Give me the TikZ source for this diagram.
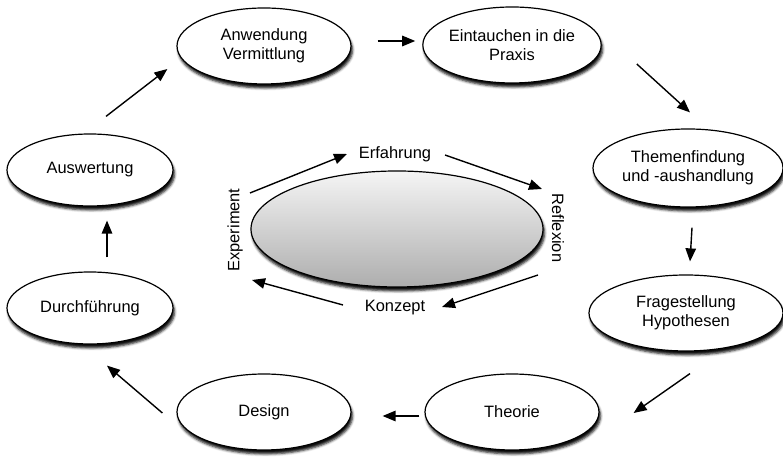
\documentclass[tikz,border=0pt]{standalone}
\usepackage{fontspec}
\setmainfont{Liberation Sans}
\usetikzlibrary{shapes.geometric,arrows.meta,shadows.blur}

\begin{document}
\begin{tikzpicture}[x=1bp, y=1bp, line width=1.2bp,
		phase/.style={ellipse, draw, fill=white, inner sep=0pt, align=center,
			minimum width=174bp, minimum height=76bp,
			blur shadow={shadow xshift=1.5bp, shadow yshift=-4bp, shadow blur radius=2.5bp, shadow opacity=95}},
		pfeil/.style={-{Triangle[length=13bp, width=10.5bp]}, line width=1.4bp},
		zyklus/.style={inner sep=1pt},
		font=\fontsize{16.5}{19}\selectfont]
	\useasboundingbox (0,0) rectangle (783,458);

	% 1. Phasen aussen
	\node[phase] (anw) at (264,412) {Anwendung\\Vermittlung};
	\node[phase] (ein) at (512,413) {Eintauchen in die\\Praxis};
	\node[phase, minimum width=190bp, minimum height=78bp] (them) at (688,290) {Themenfindung\\und -aushandlung};
	\node[phase, minimum width=194bp] (frag) at (686,145) {Fragestellung\\Hypothesen};
	\node[phase] (theo) at (512,46) {Theorie};
	\node[phase] (design) at (264,46) {Design};
	\node[phase, minimum width=166bp, minimum height=72bp] (durch) at (90,150) {Durchführung};
	\node[phase, minimum width=166bp, minimum height=72bp] (ausw) at (90,288) {Auswertung};

	% 2. Ellipse in der Mitte
	\node[ellipse, draw, inner sep=0pt, minimum width=292bp, minimum height=116bp,
		top color=black!4, bottom color=black!32,
		blur shadow={shadow xshift=1.5bp, shadow yshift=-4bp, shadow blur radius=2.5bp, shadow opacity=95}]
		(mitte) at (397,229) {};

	% 3. Zyklus-Beschriftungen
	\node[zyklus] (erf) at (395,304) {Erfahrung};
	\node[zyklus, rotate=-90] (refl) at (558,230) {Reflexion};
	\node[zyklus] (konz) at (395,150) {Konzept};
	\node[zyklus, rotate=90] (exp) at (235,228) {Experiment};

	% 4. Pfeile aussen
	\draw[pfeil] ([shift={(16,17)}]ausw.north) -- ([shift={(-9,-23)}]anw.west);
	\draw[pfeil] ([shift={(26,5)}]anw.east) -- ([shift={(-7,4)}]ein.west);
	\draw[pfeil] ([shift={(35,-19)}]ein.east) -- ([shift={(2,16)}]them.north);
	\draw[pfeil] ([shift={(4,-20)}]them.south) -- ([shift={(4,13)}]frag.north);
	\draw[pfeil] ([shift={(4,-22)}]frag.south) -- ([shift={(34,-1)}]theo.east);
	\draw[pfeil] ([shift={(-5,-4)}]theo.west) -- ([shift={(31,-4)}]design.east);
	\draw[pfeil] ([shift={(-14,-1)}]design.west) -- ([shift={(17,-21)}]durch.south);
	\draw[pfeil] ([shift={(17,14)}]durch.north) -- ([shift={(17,-14)}]ausw.south);

	% 5. Pfeile innen
	\draw[pfeil] ([shift={(15,37)}]exp.center) -- ([shift={(-48,0)}]erf.center);
	\draw[pfeil] ([shift={(50,-1)}]erf.center) -- ([shift={(-16,39)}]refl.center);
	\draw[pfeil] ([shift={(-20,-47)}]refl.center) -- ([shift={(47,1)}]konz.center);
	\draw[pfeil] ([shift={(-52,3)}]konz.center) -- ([shift={(17,-50)}]exp.center);
\end{tikzpicture}
\end{document}
